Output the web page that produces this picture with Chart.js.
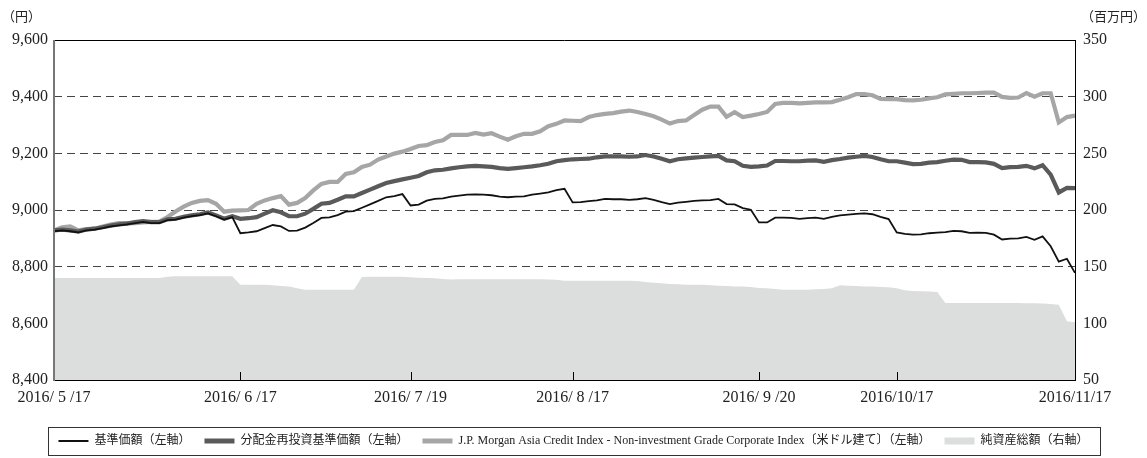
<!DOCTYPE html>
<html><head><meta charset="utf-8">
<script src="https://cdn.jsdelivr.net/npm/chart.js@4.4.0/dist/chart.umd.min.js"></script>
<style>html,body{margin:0;padding:0;background:#fff;}#wrap{position:relative;width:1147px;height:458px;}</style>
</head><body><div id="wrap"><canvas id="c"></canvas></div>
<script>
const categories = [
'5/17','5/18','5/19','5/20','5/23','5/24','5/25','5/26','5/27','5/30','5/31',
'6/1','6/2','6/3','6/6','6/7','6/8','6/9','6/10','6/13','6/14','6/15','6/16','6/17','6/20','6/21','6/22','6/23','6/24','6/27','6/28','6/29','6/30',
'7/1','7/4','7/5','7/6','7/7','7/8','7/11','7/12','7/13','7/14','7/15','7/19','7/20','7/21','7/22','7/25','7/26','7/27','7/28','7/29',
'8/1','8/2','8/3','8/4','8/5','8/8','8/9','8/10','8/12','8/15','8/16','8/17','8/18','8/19','8/22','8/23','8/24','8/25','8/26','8/29','8/30','8/31',
'9/1','9/2','9/5','9/6','9/7','9/8','9/9','9/12','9/13','9/14','9/15','9/16','9/20','9/21','9/23','9/26','9/27','9/28','9/29','9/30',
'10/3','10/4','10/5','10/6','10/7','10/11','10/12','10/13','10/14','10/17','10/18','10/19','10/20','10/21','10/24','10/25','10/26','10/27','10/28','10/31',
'11/1','11/2','11/4','11/7','11/8','11/9','11/10','11/11','11/14','11/15','11/16','11/17'];

const navValues = [
8925,8928,8925,8921,8928,8931,8936,8942,8946,8949,8954,8958,8954,8954,8964,8966,8973,8978,8982,8988,
8978,8966,8975,8918,8921,8925,8936,8947,8942,8926,8927,8938,8954,8972,8974,8982,8994,8996,9008,9020,
9032,9045,9049,9056,9016,9019,9033,9039,9041,9047,9051,9054,9055,9054,9052,9047,9045,9047,9048,9054,
9058,9062,9070,9075,9027,9028,9031,9034,9039,9038,9038,9036,9038,9042,9036,9028,9021,9026,9029,9032,
9034,9035,9039,9021,9020,9007,9001,8956,8956,8973,8973,8972,8969,8971,8973,8969,8976,8981,8984,8986,
8988,8985,8976,8968,8921,8916,8913,8914,8918,8920,8922,8926,8925,8919,8920,8919,8913,8896,8899,8900,
8905,8895,8907,8872,8818,8828,8778];

const reinvestValues = [
8928,8931,8928,8924,8931,8934,8939,8945,8949,8952,8957,8961,8957,8957,8967,8969,8976,8981,8985,8991,
8981,8969,8978,8969,8971,8975,8987,8999,8992,8978,8978,8987,9004,9022,9025,9036,9048,9048,9060,9072,
9084,9095,9102,9108,9114,9120,9133,9140,9142,9147,9151,9154,9156,9154,9152,9148,9145,9148,9151,9154,
9158,9163,9172,9176,9179,9180,9181,9186,9189,9189,9189,9188,9189,9194,9189,9181,9172,9179,9182,9185,
9187,9189,9191,9175,9172,9156,9152,9154,9157,9173,9173,9172,9172,9174,9175,9170,9176,9180,9185,9188,
9191,9187,9179,9172,9172,9167,9162,9163,9167,9169,9174,9178,9177,9169,9169,9168,9163,9148,9151,9152,
9156,9147,9158,9125,9062,9078,9077];

const indexValues = [
8928,8939,8942,8928,8933,8934,8942,8949,8954,8954,8954,8956,8958,8959,8975,8995,9012,9025,9032,9035,
9022,8994,8998,8999,9000,9022,9034,9042,9049,9019,9025,9042,9069,9092,9099,9099,9127,9133,9152,9160,
9178,9189,9199,9206,9215,9226,9229,9240,9246,9265,9265,9265,9272,9266,9271,9259,9248,9260,9269,9269,
9278,9296,9304,9316,9315,9314,9328,9335,9339,9342,9347,9351,9346,9339,9331,9319,9305,9314,9316,9335,
9354,9365,9365,9329,9345,9328,9333,9339,9346,9374,9378,9378,9376,9378,9380,9380,9381,9389,9398,9409,
9409,9405,9392,9391,9391,9388,9387,9389,9394,9398,9408,9410,9412,9412,9413,9414,9414,9399,9396,9397,
9413,9400,9412,9412,9309,9328,9333];

const assetValues = [
140,140,140,140,140,140,140,140,140,140,140,140,140,140,141.2,141.5,141.5,141.5,141.5,141.5,
141.5,141.5,141.5,134,134,134,134,133.5,133,132.4,131,129.7,129.7,129.7,129.7,129.7,129.7,129.7,140.9,141,
141,141,141,141,140.6,140.3,140,139.7,139.1,138.6,138.9,139,139,139,139,139,139,138.8,138.8,138.8,
138.8,138.7,138.5,137.6,137.6,137.6,137.6,137.6,137.6,137.6,137.6,137.6,137.3,136.5,135.9,135.3,134.7,134.4,134.1,134.1,
134.1,133.5,133.2,132.9,132.6,132.4,132.1,131.2,130.9,130.3,129.7,129.7,129.7,129.7,130,130.3,130.9,133.5,133.2,132.9,
132.6,132.4,132.1,131.8,130.9,129.1,128.5,128.2,128,127.6,118,118,118,118,118,118,118,118,117.9,117.9,
117.8,117.8,117.4,117.1,116.5,101.8,100.9];

const seriesNames = ['基準価額（左軸）','分配金再投資基準価額（左軸）','J.P. Morgan Asia Credit Index - Non-investment Grade Corporate Index〔米ドル建て〕（左軸）','純資産総額（右軸）'];
const tickDates = ['5/17','6/17','7/19','8/17','9/20','10/17','11/17'];
const tickTexts = ['2016/ 5 /17','2016/ 6 /17','2016/ 7 /19','2016/ 8 /17','2016/ 9 /20','2016/10/17','2016/11/17'];
const leftTicks = [8400,8600,8800,9000,9200,9400,9600];
const rightTicks = [50,100,150,200,250,300,350];

const SERIF = "'Liberation Serif','Noto Sans CJK JP',serif";
const tickIdx = tickDates.map(d => categories.indexOf(d));

const framePlugin = {
  id: 'frame',
  afterDatasetsDraw(chart) {
    const {ctx, chartArea: {left, right, top, bottom}} = chart;
    ctx.save();
    ctx.strokeStyle = '#000'; ctx.lineWidth = 1;
    ctx.beginPath();
    ctx.moveTo(left, top + 0.5); ctx.lineTo(right, top + 0.5);
    ctx.moveTo(right + 0.5, top); ctx.lineTo(right + 0.5, bottom);
    ctx.moveTo(left, bottom + 0.5); ctx.lineTo(right + 1, bottom + 0.5);
    ctx.stroke();
    const xs = chart.scales.x;
    ctx.beginPath();
    tickIdx.slice(1, -1).forEach(i => {
      const px = Math.round(xs.getPixelForValue(i)) + 0.5;
      ctx.moveTo(px, bottom); ctx.lineTo(px, bottom - 8);
    });
    ctx.stroke();
    ctx.strokeStyle = '#777'; ctx.lineWidth = 2;
    ctx.beginPath(); ctx.moveTo(left, top); ctx.lineTo(left, bottom + 1); ctx.stroke();
    ctx.restore();
  },
  afterDraw(chart) {
    const {ctx} = chart;
    ctx.save();
    ctx.fillStyle = '#222';
    ctx.font = "13px 'Liberation Serif','Noto Sans CJK JP'";
    ctx.textBaseline = 'middle';
    ctx.textAlign = 'left';
    ctx.fillText('（円）', 2, 18);
    ctx.textAlign = 'right';
    ctx.fillText('（百万円）', 1146, 18);
    const hb = chart.legend.legendHitBoxes;
    if (hb && hb.length) {
      const l = Math.min(...hb.map(h => h.left)) - 10;
      const r = Math.max(...hb.map(h => h.left + h.width)) + 12;
      const t = hb[0].top - 8, b = hb[0].top + hb[0].height + 8;
      ctx.strokeStyle = '#333'; ctx.lineWidth = 1;
      ctx.strokeRect(Math.round(l) + 0.5, Math.round(t) + 0.5, Math.round(r - l), Math.round(b - t));
    }
    ctx.restore();
  }
};

new Chart(document.getElementById('c'), {
  type: 'line',
  data: {
    labels: categories,
    datasets: [
      {label: seriesNames[0], data: navValues, borderColor: '#111', borderWidth: 1.8, pointRadius: 0, yAxisID: 'y', tension: 0, legendW: 2},
      {label: seriesNames[1], data: reinvestValues, borderColor: '#5a5a5a', borderWidth: 4.2, pointRadius: 0, yAxisID: 'y', tension: 0, legendW: 5},
      {label: seriesNames[2], data: indexValues, borderColor: '#a6a6a6', borderWidth: 4.2, pointRadius: 0, yAxisID: 'y', tension: 0, legendW: 5},
      {label: seriesNames[3], data: assetValues, borderColor: '#dcdddd', backgroundColor: '#dcdddd', borderWidth: 0, pointRadius: 0, fill: 'start', yAxisID: 'y1', tension: 0, legendW: 0}
    ]
  },
  options: {
    responsive: true, maintainAspectRatio: false, animation: false,
    layout: {padding: {top: 40, left: 0, right: 0, bottom: 1}},
    plugins: {
      tooltip: {enabled: false},
      legend: {
        position: 'bottom',
        labels: {
          usePointStyle: true, pointStyleWidth: 30, boxHeight: 7, padding: 14,
          color: '#222', font: {family: SERIF, size: 12},
          generateLabels: (chart) => chart.data.datasets.map((ds, i) => ({
            text: ds.label, datasetIndex: i, hidden: false,
            fillStyle: i === 3 ? ds.backgroundColor : ds.borderColor,
            strokeStyle: ds.borderColor, lineWidth: ds.legendW,
            pointStyle: i === 3 ? 'rect' : 'line', fontColor: '#222'
          }))
        }
      }
    },
    scales: {
      x: {
        type: 'category', offset: false,
        grid: {display: false, drawTicks: false},
        border: {display: false},
        afterBuildTicks: (s) => { s.ticks = tickIdx.map(v => ({value: v})); },
        afterFit: (s) => { s.height = 41; },
        ticks: {
          autoSkip: false, maxRotation: 0, padding: 8, color: '#222',
          font: {family: SERIF, size: 16},
          callback: (v) => { const k = tickIdx.indexOf(v); return k >= 0 ? tickTexts[k] : ''; }
        }
      },
      y: {
        position: 'left', min: 8400, max: 9600,
        afterBuildTicks: (s) => { s.ticks = leftTicks.map(v => ({value: v})); },
        afterFit: (s) => { s.width = 54; },
        grid: {
          drawTicks: false, lineWidth: 1,
          color: (c) => (c.tick && (c.tick.value === 9600 || c.tick.value === 8400)) ? 'rgba(0,0,0,0)' : '#444',
          borderDash: [8, 5]
        },
        border: {display: false, dash: [8, 5]},
        ticks: {
          padding: 6, color: '#222', font: {family: SERIF, size: 16},
          callback: (v) => v.toLocaleString('en-US')
        }
      },
      y1: {
        position: 'right', min: 50, max: 350,
        afterBuildTicks: (s) => { s.ticks = rightTicks.map(v => ({value: v})); },
        afterFit: (s) => { s.width = 72; },
        grid: {display: false, drawTicks: false},
        border: {display: false},
        ticks: {padding: 8, color: '#222', font: {family: SERIF, size: 16}}
      }
    }
  },
  plugins: [framePlugin]
});
</script>
</body></html>
